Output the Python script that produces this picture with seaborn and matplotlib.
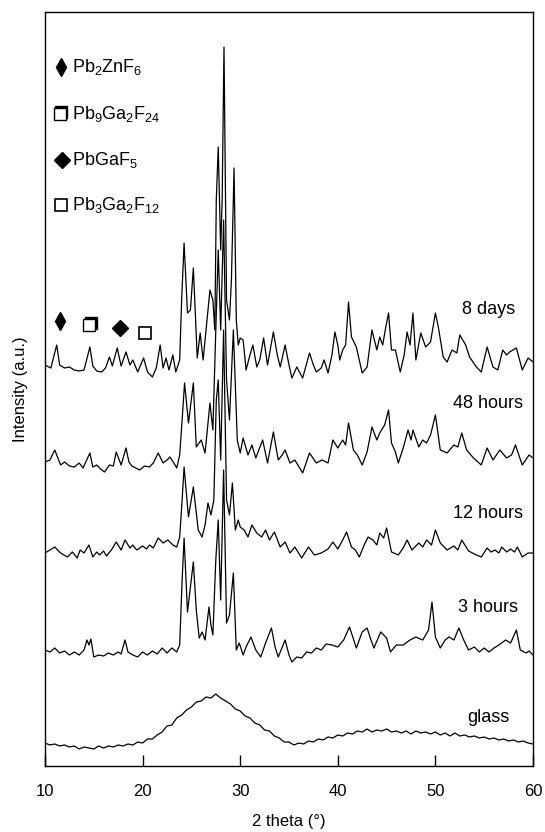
import numpy as np
import pandas as pd
import seaborn as sns
import matplotlib.pyplot as plt
from matplotlib.transforms import offset_copy

# 2 theta (deg) and intensity (a.u.), one pair per sample
theta_8d = [10.0, 10.6, 11.2, 11.5, 12.0, 12.5, 13.0, 13.5, 14.0, 14.6, 14.9, 15.3, 15.8, 16.2, 16.6, 16.9,
            17.4, 17.8, 18.3, 18.7, 19.0, 19.5, 20.1, 20.5, 21.0, 21.4, 21.8, 22.1, 22.4, 22.7, 23.1, 23.4,
            23.8, 24.0, 24.25, 24.6, 24.9, 25.2, 25.6, 25.9, 26.2, 26.6, 26.9, 27.2, 27.4, 27.55, 27.75, 28.0,
            28.15, 28.34, 28.6, 28.9, 29.1, 29.37, 29.6, 29.8, 30.0, 30.3, 30.6, 31.0, 31.3, 31.7, 32.0, 32.4,
            32.8, 33.4, 33.8, 34.1, 34.6, 35.0, 35.3, 35.8, 36.4, 37.1, 37.5, 37.8, 38.3, 38.6, 39.0, 39.4,
            39.7, 40.0, 40.2, 40.5, 40.8, 41.1, 41.4, 41.9, 42.2, 42.5, 43.0, 43.5, 44.0, 44.3, 44.6, 44.9,
            45.2, 45.5, 45.9, 46.4, 46.8, 47.1, 47.4, 47.7, 48.0, 48.5, 49.0, 49.5, 50.0, 50.3, 50.8, 51.2,
            51.7, 52.2, 52.5, 52.8, 53.1, 53.5, 54.2, 54.7, 55.3, 55.9, 56.4, 56.9, 57.3, 57.6, 58.3, 58.9,
            59.5, 60.0]
int_8d = [401, 398, 421, 401, 398, 399, 396, 395, 396, 419, 400, 395, 394, 398, 409, 400,
          418, 400, 414, 401, 406, 394, 408, 394, 389, 398, 421, 398, 408, 396, 411, 394,
          406, 466, 523, 453, 456, 498, 408, 433, 406, 446, 476, 466, 436, 566, 619, 516,
          566, 719, 466, 446, 486, 598, 446, 421, 428, 426, 396, 411, 421, 399, 406, 428,
          401, 434, 411, 399, 421, 401, 388, 399, 388, 413, 401, 394, 398, 406, 393, 411,
          434, 421, 406, 416, 421, 464, 429, 419, 406, 393, 399, 436, 416, 429, 421, 438,
          453, 416, 416, 394, 411, 434, 421, 453, 406, 433, 419, 424, 453, 439, 409, 404,
          416, 413, 431, 426, 421, 409, 399, 394, 419, 399, 396, 416, 411, 414, 418, 396,
          408, 404]

theta_48h = [10.0, 10.5, 11.0, 11.6, 12.0, 12.5, 13.0, 13.5, 13.9, 14.6, 14.9, 15.3, 15.7, 16.1, 16.6, 17.0,
             17.3, 17.8, 18.3, 18.6, 18.9, 19.3, 19.7, 20.2, 20.7, 21.1, 21.6, 22.1, 22.5, 22.8, 23.2, 23.5,
             23.8, 24.05, 24.3, 24.7, 25.2, 25.5, 26.0, 26.4, 26.9, 27.2, 27.5, 27.75, 28.0, 28.3, 28.6, 28.9,
             29.3, 29.7, 30.0, 30.3, 30.8, 31.2, 31.6, 32.3, 32.8, 33.4, 33.9, 34.3, 34.6, 35.1, 35.6, 36.4,
             37.1, 37.8, 38.4, 39.0, 39.5, 40.0, 40.5, 40.8, 41.1, 41.6, 42.0, 42.5, 43.0, 43.5, 44.0, 44.3,
             44.8, 45.2, 45.5, 45.9, 46.2, 46.7, 47.2, 47.5, 47.7, 48.3, 48.7, 49.1, 49.5, 50.0, 50.5, 51.2,
             51.9, 52.3, 52.7, 53.2, 53.9, 54.7, 55.3, 55.9, 56.6, 57.3, 57.8, 58.2, 58.9, 59.6, 60.0]
int_48h = [304, 306, 316, 301, 304, 300, 299, 303, 298, 313, 299, 301, 297, 294, 301, 300,
           314, 301, 318, 304, 300, 298, 296, 300, 299, 303, 313, 303, 306, 309, 303, 298,
           311, 346, 383, 343, 383, 319, 326, 313, 363, 336, 436, 516, 436, 546, 386, 346,
           436, 326, 313, 328, 311, 321, 308, 326, 303, 334, 306, 311, 316, 303, 306, 293,
           313, 303, 306, 303, 326, 318, 326, 321, 343, 316, 311, 301, 314, 339, 326, 333,
           341, 356, 323, 314, 303, 318, 336, 326, 336, 319, 326, 323, 331, 351, 316, 313,
           321, 319, 333, 316, 308, 301, 318, 306, 316, 308, 311, 321, 301, 311, 308]

theta_12h = [10.0, 10.5, 11.0, 11.6, 12.3, 12.8, 13.3, 13.6, 14.0, 14.5, 14.9, 15.3, 15.6, 16.0, 16.3, 16.8,
             17.3, 17.8, 18.2, 18.7, 19.0, 19.4, 20.0, 20.4, 20.7, 21.1, 21.6, 22.1, 22.6, 23.1, 23.5, 23.8,
             24.05, 24.25, 24.7, 25.2, 25.7, 26.1, 26.4, 26.7, 27.0, 27.3, 27.55, 27.75, 28.0, 28.3, 28.6, 28.9,
             29.2, 29.5, 29.8, 30.0, 30.4, 30.8, 31.2, 31.7, 32.2, 32.6, 33.0, 33.5, 34.1, 34.6, 35.1, 35.6,
             36.3, 37.0, 37.6, 38.3, 39.0, 39.5, 40.0, 40.5, 40.9, 41.4, 41.8, 42.2, 42.7, 43.1, 43.6, 44.0,
             44.3, 44.7, 45.0, 45.5, 46.2, 46.7, 47.1, 47.6, 48.3, 48.7, 49.1, 49.6, 50.0, 50.5, 51.2, 51.9,
             52.3, 52.7, 53.4, 54.2, 54.7, 55.3, 55.7, 56.1, 56.5, 56.8, 57.3, 57.7, 58.1, 58.4, 58.9, 59.5,
             60.0]
int_12h = [213, 216, 219, 213, 209, 214, 208, 216, 213, 221, 209, 214, 211, 215, 210, 216,
           224, 216, 226, 218, 221, 216, 220, 217, 221, 218, 228, 223, 226, 221, 219, 229,
           266, 299, 249, 279, 236, 229, 241, 263, 251, 266, 366, 386, 306, 436, 266, 251,
           283, 236, 246, 239, 236, 229, 241, 233, 229, 236, 226, 234, 219, 224, 213, 219,
           208, 219, 211, 213, 217, 224, 217, 226, 234, 219, 216, 209, 221, 229, 226, 221,
           233, 228, 238, 214, 211, 218, 226, 216, 223, 219, 226, 221, 236, 223, 216, 220,
           216, 226, 215, 211, 209, 218, 214, 216, 213, 219, 214, 217, 214, 219, 209, 213,
           213]

theta_3h = [10.0, 10.5, 11.0, 11.5, 12.0, 12.5, 13.0, 13.5, 14.0, 14.3, 14.5, 14.7, 15.0, 15.5, 16.0, 16.5,
            17.0, 17.5, 17.8, 18.2, 18.5, 19.0, 19.5, 20.0, 20.5, 21.0, 21.5, 22.0, 22.5, 23.0, 23.5, 23.8,
            24.05, 24.25, 24.6, 25.2, 25.5, 25.8, 26.1, 26.4, 26.8, 27.0, 27.2, 27.5, 27.75, 28.0, 28.3, 28.6,
            28.9, 29.3, 29.6, 29.9, 30.3, 30.6, 31.1, 31.6, 32.1, 32.6, 33.2, 33.6, 33.9, 34.6, 35.0, 35.3,
            35.8, 36.3, 36.8, 37.3, 37.8, 38.3, 38.8, 39.4, 40.0, 40.6, 41.2, 41.9, 42.5, 43.0, 43.4, 43.7,
            44.4, 45.0, 45.4, 46.0, 46.7, 47.4, 48.0, 48.7, 49.3, 49.65, 50.0, 50.5, 51.0, 51.4, 51.9, 52.4,
            52.9, 53.4, 54.0, 54.5, 55.0, 55.5, 56.0, 56.5, 57.2, 57.7, 58.3, 58.7, 59.3, 59.6, 60.0]
int_3h = [116, 114, 118, 113, 115, 111, 114, 111, 116, 126, 121, 127, 109, 111, 110, 113,
          111, 114, 112, 126, 114, 111, 109, 114, 111, 115, 112, 118, 113, 118, 114, 121,
          186, 228, 154, 204, 156, 128, 134, 126, 159, 141, 131, 206, 246, 166, 296, 143,
          151, 193, 116, 123, 111, 119, 129, 116, 109, 123, 138, 118, 109, 126, 111, 104,
          109, 108, 114, 113, 118, 116, 122, 121, 119, 126, 139, 118, 134, 138, 126, 118,
          134, 128, 114, 121, 121, 126, 129, 126, 136, 164, 129, 118, 126, 129, 126, 138,
          126, 116, 119, 114, 118, 114, 118, 121, 126, 123, 136, 116, 113, 115, 111]

# amorphous glass, sampled every 0.5 deg from 10 to 60
theta_glass = np.linspace(10, 60, 101)
int_glass = [23, 21, 22, 20, 21, 19, 20, 17, 19, 18,
             17, 20, 18, 20, 19, 21, 20, 22, 21, 24,
             23, 27, 27, 31, 34, 40, 41, 48, 51, 56,
             59, 64, 65, 69, 68, 72, 68, 65, 62, 57,
             55, 50, 48, 43, 41, 36, 35, 30, 28, 24,
             24, 21, 23, 22, 25, 24, 27, 26, 29, 28,
             31, 30, 33, 32, 35, 34, 37, 34, 36, 35,
             37, 34, 35, 33, 35, 32, 35, 33, 34, 32,
             34, 31, 33, 30, 33, 30, 31, 29, 30, 28,
             29, 27, 28, 26, 27, 25, 26, 24, 25, 23,
             22]

sample_names = ['8 days', '48 hours', '12 hours', '3 hours', 'glass']
sample_label_y = [456, 362, 252, 158, 49]

phase_names = ['Pb$_2$ZnF$_6$', 'Pb$_9$Ga$_2$F$_{24}$', 'PbGaF$_5$', 'Pb$_3$Ga$_2$F$_{12}$']
phase_peak_theta = [11.5, 14.5, 17.7, 20.2]
phase_peak_int = [445, 441, 438, 433]

sns.set_theme(style='ticks')
plt.rcParams['font.family'] = ['Liberation Sans', 'DejaVu Sans']
plt.rcParams['mathtext.default'] = 'regular'
plt.rcParams['text.color'] = 'black'
plt.rcParams['axes.labelcolor'] = 'black'

fig = plt.figure(figsize=(5.45, 8.32), dpi=100)
ax = fig.add_axes([45 / 545, 66 / 832, 488 / 545, 754 / 832])

traces = [(theta_8d, int_8d), (theta_48h, int_48h), (theta_12h, int_12h),
          (theta_3h, int_3h), (theta_glass, int_glass)]
for (tt, ii), name in zip(traces, sample_names):
    df = pd.DataFrame({'two_theta': tt, 'intensity': ii})
    sns.lineplot(data=df, x='two_theta', y='intensity', color='black', lw=0.9,
                 estimator=None, sort=False, ax=ax)

for name, yy in zip(sample_names, sample_label_y):
    ax.text(55.4, yy, name, ha='center', va='center', fontsize=13)

# phase markers: small diamond, shadowed square, big diamond, open square
shadow = offset_copy(ax.transData, fig=fig, x=1.3, y=1.3, units='points')


def draw_markers(xs, ys):
    ax.plot(xs[0], ys[0], marker='d', ms=9, color='black', ls='none')
    ax.plot(xs[1], ys[1], marker='s', ms=8, color='black', ls='none', transform=shadow)
    ax.plot(xs[1], ys[1], marker='s', ms=8, mfc='white', mec='black', mew=1.0, ls='none')
    ax.plot(xs[2], ys[2], marker='D', ms=8.5, color='black', ls='none')
    ax.plot(xs[3], ys[3], marker='s', ms=8.5, mfc='white', mec='black', mew=1.2, ls='none')


draw_markers(phase_peak_theta, phase_peak_int)

# legend block in the upper left
legend_marker_x = [11.6, 11.5, 11.7, 11.6]
legend_y = [699, 652, 606, 561]
draw_markers(legend_marker_x, legend_y)
for name, yy in zip(phase_names, legend_y):
    ax.text(12.8, yy, name, ha='left', va='center', fontsize=13)

ax.set_xlim(10, 60)
ax.set_ylim(0, 754)
ax.set_xticks([10, 20, 30, 40, 50, 60])
ax.set_yticks([])
ax.tick_params(axis='x', direction='in', length=8, width=1, labelsize=12, pad=13,
               colors='black')
for sp in ax.spines.values():
    sp.set_visible(True)
    sp.set_color('black')
    sp.set_linewidth(1)
ax.set_xlabel('2 theta (°)', fontsize=12, labelpad=11)
ax.set_ylabel('Intensity (a.u.)', fontsize=12, labelpad=12)

fig.savefig('out.png', dpi=100)
